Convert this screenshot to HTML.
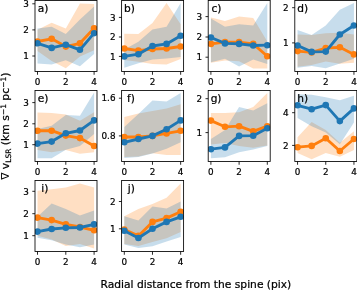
<!DOCTYPE html>
<html><head><meta charset="utf-8"><title>figure</title>
<style>
html,body{margin:0;padding:0;background:#fff;width:357px;height:290px;overflow:hidden}
svg{opacity:0.999;will-change:transform}
svg text{font-family:"DejaVu Sans","Liberation Sans",sans-serif;fill:#000;stroke:#000;stroke-width:0.22px}
</style></head><body>
<svg width="357" height="290" viewBox="0 0 357 290" style="display:block;position:absolute;left:0;top:0">
<rect width="357" height="290" fill="#fff"/>
<defs>
<clipPath id="ca"><rect x="35.0" y="0.5" width="62.0" height="70.95"/></clipPath>
<clipPath id="cb"><rect x="121.6" y="0.5" width="62.0" height="70.95"/></clipPath>
<clipPath id="cc"><rect x="208.2" y="0.5" width="62.0" height="70.95"/></clipPath>
<clipPath id="cd"><rect x="294.8" y="0.5" width="62.0" height="70.95"/></clipPath>
<clipPath id="ce"><rect x="35.0" y="90.5" width="62.0" height="70.95"/></clipPath>
<clipPath id="cf"><rect x="121.6" y="90.5" width="62.0" height="70.95"/></clipPath>
<clipPath id="cg"><rect x="208.2" y="90.5" width="62.0" height="70.95"/></clipPath>
<clipPath id="ch"><rect x="294.8" y="90.5" width="62.0" height="70.95"/></clipPath>
<clipPath id="ci"><rect x="35.0" y="180.5" width="62.0" height="70.95"/></clipPath>
<clipPath id="cj"><rect x="121.6" y="180.5" width="62.0" height="70.95"/></clipPath>
</defs>
<g clip-path="url(#ca)">
<polygon points="37.50,29.80 51.65,22.70 65.80,28.50 79.95,3.40 94.10,4.10 94.10,50.20 79.95,56.60 65.80,68.20 51.65,61.00 37.50,51.00" fill="#ff7f0e" fill-opacity="0.25"/>
<polygon points="37.50,28.50 51.65,26.70 65.80,34.10 79.95,19.60 94.10,6.50 94.10,54.10 79.95,66.30 65.80,60.20 51.65,64.50 37.50,63.40" fill="#1f77b4" fill-opacity="0.25"/>
<polyline points="37.50,41.50 51.65,38.80 65.80,46.60 79.95,43.30 94.10,28.30" fill="none" stroke="#ff7f0e" stroke-width="2.85" stroke-linejoin="round"/>
<circle cx="37.50" cy="41.50" r="3.3" fill="#ff7f0e"/>
<circle cx="51.65" cy="38.80" r="3.3" fill="#ff7f0e"/>
<circle cx="65.80" cy="46.60" r="3.3" fill="#ff7f0e"/>
<circle cx="79.95" cy="43.30" r="3.3" fill="#ff7f0e"/>
<circle cx="94.10" cy="28.30" r="3.3" fill="#ff7f0e"/>
<polyline points="37.50,43.30 51.65,47.90 65.80,44.70 79.95,49.80 94.10,33.20" fill="none" stroke="#1f77b4" stroke-width="2.85" stroke-linejoin="round"/>
<circle cx="37.50" cy="43.30" r="3.3" fill="#1f77b4"/>
<circle cx="51.65" cy="47.90" r="3.3" fill="#1f77b4"/>
<circle cx="65.80" cy="44.70" r="3.3" fill="#1f77b4"/>
<circle cx="79.95" cy="49.80" r="3.3" fill="#1f77b4"/>
<circle cx="94.10" cy="33.20" r="3.3" fill="#1f77b4"/>
</g>
<rect x="35.0" y="0.5" width="62.0" height="70.95" fill="none" stroke="#000" stroke-width="0.85"/>
<line x1="37.50" x2="37.50" y1="71.45" y2="74.75" stroke="#000" stroke-width="0.85"/>
<text x="37.50" y="85.09" font-size="8.8" text-anchor="middle">0</text>
<line x1="65.80" x2="65.80" y1="71.45" y2="74.75" stroke="#000" stroke-width="0.85"/>
<text x="65.80" y="85.09" font-size="8.8" text-anchor="middle">2</text>
<line x1="94.10" x2="94.10" y1="71.45" y2="74.75" stroke="#000" stroke-width="0.85"/>
<text x="94.10" y="85.09" font-size="8.8" text-anchor="middle">4</text>
<line x1="32.3" x2="35.0" y1="3.8" y2="3.8" stroke="#000" stroke-width="0.85"/>
<text x="28.90" y="7.01" font-size="8.8" text-anchor="end">3</text>
<line x1="32.3" x2="35.0" y1="29.9" y2="29.9" stroke="#000" stroke-width="0.85"/>
<text x="28.90" y="33.11" font-size="8.8" text-anchor="end">2</text>
<line x1="32.3" x2="35.0" y1="56.0" y2="56.0" stroke="#000" stroke-width="0.85"/>
<text x="28.90" y="59.21" font-size="8.8" text-anchor="end">1</text>
<text x="48.30" y="12.40" font-size="10.6" text-anchor="end">a)</text>
<g clip-path="url(#cb)">
<polygon points="124.30,33.70 138.39,34.00 152.48,23.00 166.57,3.10 180.66,24.30 180.66,58.90 166.57,64.40 152.48,64.00 138.39,61.80 124.30,60.00" fill="#ff7f0e" fill-opacity="0.25"/>
<polygon points="124.30,49.50 138.39,41.80 152.48,29.50 166.57,26.80 180.66,3.10 180.66,57.00 166.57,58.50 152.48,59.40 138.39,63.30 124.30,67.70" fill="#1f77b4" fill-opacity="0.25"/>
<polyline points="124.30,48.50 138.39,50.60 152.48,49.00 166.57,48.50 180.66,46.50" fill="none" stroke="#ff7f0e" stroke-width="2.85" stroke-linejoin="round"/>
<circle cx="124.30" cy="48.50" r="3.3" fill="#ff7f0e"/>
<circle cx="138.39" cy="50.60" r="3.3" fill="#ff7f0e"/>
<circle cx="152.48" cy="49.00" r="3.3" fill="#ff7f0e"/>
<circle cx="166.57" cy="48.50" r="3.3" fill="#ff7f0e"/>
<circle cx="180.66" cy="46.50" r="3.3" fill="#ff7f0e"/>
<polyline points="124.30,56.40 138.39,54.20 152.48,46.00 166.57,43.90 180.66,35.80" fill="none" stroke="#1f77b4" stroke-width="2.85" stroke-linejoin="round"/>
<circle cx="124.30" cy="56.40" r="3.3" fill="#1f77b4"/>
<circle cx="138.39" cy="54.20" r="3.3" fill="#1f77b4"/>
<circle cx="152.48" cy="46.00" r="3.3" fill="#1f77b4"/>
<circle cx="166.57" cy="43.90" r="3.3" fill="#1f77b4"/>
<circle cx="180.66" cy="35.80" r="3.3" fill="#1f77b4"/>
</g>
<rect x="121.6" y="0.5" width="62.0" height="70.95" fill="none" stroke="#000" stroke-width="0.85"/>
<line x1="124.30" x2="124.30" y1="71.45" y2="74.75" stroke="#000" stroke-width="0.85"/>
<text x="124.30" y="85.09" font-size="8.8" text-anchor="middle">0</text>
<line x1="152.48" x2="152.48" y1="71.45" y2="74.75" stroke="#000" stroke-width="0.85"/>
<text x="152.48" y="85.09" font-size="8.8" text-anchor="middle">2</text>
<line x1="180.66" x2="180.66" y1="71.45" y2="74.75" stroke="#000" stroke-width="0.85"/>
<text x="180.66" y="85.09" font-size="8.8" text-anchor="middle">4</text>
<line x1="118.89999999999999" x2="121.6" y1="17.4" y2="17.4" stroke="#000" stroke-width="0.85"/>
<text x="115.50" y="20.61" font-size="8.8" text-anchor="end">3</text>
<line x1="118.89999999999999" x2="121.6" y1="37.0" y2="37.0" stroke="#000" stroke-width="0.85"/>
<text x="115.50" y="40.21" font-size="8.8" text-anchor="end">2</text>
<line x1="118.89999999999999" x2="121.6" y1="56.4" y2="56.4" stroke="#000" stroke-width="0.85"/>
<text x="115.50" y="59.61" font-size="8.8" text-anchor="end">1</text>
<text x="134.90" y="12.40" font-size="10.6" text-anchor="end">b)</text>
<g clip-path="url(#cc)">
<polygon points="210.90,17.60 225.00,20.90 239.10,16.60 253.20,18.00 267.30,41.50 267.30,68.50 253.20,68.50 239.10,61.20 225.00,60.60 210.90,62.70" fill="#ff7f0e" fill-opacity="0.25"/>
<polygon points="210.90,18.40 225.00,26.80 239.10,24.30 253.20,25.50 267.30,3.10 267.30,64.00 253.20,59.50 239.10,66.60 225.00,58.70 210.90,62.20" fill="#1f77b4" fill-opacity="0.25"/>
<polyline points="210.90,43.90 225.00,42.10 239.10,42.10 253.20,43.90 267.30,56.20" fill="none" stroke="#ff7f0e" stroke-width="2.85" stroke-linejoin="round"/>
<circle cx="210.90" cy="43.90" r="3.3" fill="#ff7f0e"/>
<circle cx="225.00" cy="42.10" r="3.3" fill="#ff7f0e"/>
<circle cx="239.10" cy="42.10" r="3.3" fill="#ff7f0e"/>
<circle cx="253.20" cy="43.90" r="3.3" fill="#ff7f0e"/>
<circle cx="267.30" cy="56.20" r="3.3" fill="#ff7f0e"/>
<polyline points="210.90,37.50 225.00,43.40 239.10,43.90 253.20,45.50 267.30,45.20" fill="none" stroke="#1f77b4" stroke-width="2.85" stroke-linejoin="round"/>
<circle cx="210.90" cy="37.50" r="3.3" fill="#1f77b4"/>
<circle cx="225.00" cy="43.40" r="3.3" fill="#1f77b4"/>
<circle cx="239.10" cy="43.90" r="3.3" fill="#1f77b4"/>
<circle cx="253.20" cy="45.50" r="3.3" fill="#1f77b4"/>
<circle cx="267.30" cy="45.20" r="3.3" fill="#1f77b4"/>
</g>
<rect x="208.2" y="0.5" width="62.0" height="70.95" fill="none" stroke="#000" stroke-width="0.85"/>
<line x1="210.90" x2="210.90" y1="71.45" y2="74.75" stroke="#000" stroke-width="0.85"/>
<text x="210.90" y="85.09" font-size="8.8" text-anchor="middle">0</text>
<line x1="239.10" x2="239.10" y1="71.45" y2="74.75" stroke="#000" stroke-width="0.85"/>
<text x="239.10" y="85.09" font-size="8.8" text-anchor="middle">2</text>
<line x1="267.30" x2="267.30" y1="71.45" y2="74.75" stroke="#000" stroke-width="0.85"/>
<text x="267.30" y="85.09" font-size="8.8" text-anchor="middle">4</text>
<line x1="205.5" x2="208.2" y1="16.6" y2="16.6" stroke="#000" stroke-width="0.85"/>
<text x="202.10" y="19.81" font-size="8.8" text-anchor="end">3</text>
<line x1="205.5" x2="208.2" y1="37.0" y2="37.0" stroke="#000" stroke-width="0.85"/>
<text x="202.10" y="40.21" font-size="8.8" text-anchor="end">2</text>
<line x1="205.5" x2="208.2" y1="57.2" y2="57.2" stroke="#000" stroke-width="0.85"/>
<text x="202.10" y="60.41" font-size="8.8" text-anchor="end">1</text>
<text x="221.50" y="12.40" font-size="10.6" text-anchor="end">c)</text>
<g clip-path="url(#cd)">
<polygon points="297.55,34.50 311.65,35.00 325.75,33.20 339.85,32.70 353.95,34.50 353.95,62.80 339.85,63.70 325.75,61.40 311.65,65.10 297.55,66.80" fill="#ff7f0e" fill-opacity="0.25"/>
<polygon points="297.55,30.10 311.65,35.00 325.75,25.50 339.85,9.70 353.95,3.10 353.95,58.80 339.85,63.40 325.75,68.20 311.65,65.90 297.55,67.80" fill="#1f77b4" fill-opacity="0.25"/>
<polyline points="297.55,51.10 311.65,52.40 325.75,48.00 339.85,47.30 353.95,54.40" fill="none" stroke="#ff7f0e" stroke-width="2.85" stroke-linejoin="round"/>
<circle cx="297.55" cy="51.10" r="3.3" fill="#ff7f0e"/>
<circle cx="311.65" cy="52.40" r="3.3" fill="#ff7f0e"/>
<circle cx="325.75" cy="48.00" r="3.3" fill="#ff7f0e"/>
<circle cx="339.85" cy="47.30" r="3.3" fill="#ff7f0e"/>
<circle cx="353.95" cy="54.40" r="3.3" fill="#ff7f0e"/>
<polyline points="297.55,45.50 311.65,51.90 325.75,51.60 339.85,34.50 353.95,25.50" fill="none" stroke="#1f77b4" stroke-width="2.85" stroke-linejoin="round"/>
<circle cx="297.55" cy="45.50" r="3.3" fill="#1f77b4"/>
<circle cx="311.65" cy="51.90" r="3.3" fill="#1f77b4"/>
<circle cx="325.75" cy="51.60" r="3.3" fill="#1f77b4"/>
<circle cx="339.85" cy="34.50" r="3.3" fill="#1f77b4"/>
<circle cx="353.95" cy="25.50" r="3.3" fill="#1f77b4"/>
</g>
<rect x="294.8" y="0.5" width="62.0" height="70.95" fill="none" stroke="#000" stroke-width="0.85"/>
<line x1="297.55" x2="297.55" y1="71.45" y2="74.75" stroke="#000" stroke-width="0.85"/>
<text x="297.55" y="85.09" font-size="8.8" text-anchor="middle">0</text>
<line x1="325.75" x2="325.75" y1="71.45" y2="74.75" stroke="#000" stroke-width="0.85"/>
<text x="325.75" y="85.09" font-size="8.8" text-anchor="middle">2</text>
<line x1="353.95" x2="353.95" y1="71.45" y2="74.75" stroke="#000" stroke-width="0.85"/>
<text x="353.95" y="85.09" font-size="8.8" text-anchor="middle">4</text>
<line x1="292.1" x2="294.8" y1="7.7" y2="7.7" stroke="#000" stroke-width="0.85"/>
<text x="288.70" y="10.91" font-size="8.8" text-anchor="end">2</text>
<line x1="292.1" x2="294.8" y1="42.9" y2="42.9" stroke="#000" stroke-width="0.85"/>
<text x="288.70" y="46.11" font-size="8.8" text-anchor="end">1</text>
<text x="308.10" y="12.40" font-size="10.6" text-anchor="end">d)</text>
<g clip-path="url(#ce)">
<polygon points="37.50,112.40 51.65,112.90 65.80,114.50 79.95,120.70 94.10,112.30 94.10,152.20 79.95,153.70 65.80,150.00 51.65,152.20 37.50,150.10" fill="#ff7f0e" fill-opacity="0.25"/>
<polygon points="37.50,128.90 51.65,125.80 65.80,115.10 79.95,115.70 94.10,92.50 94.10,134.00 79.95,146.10 65.80,149.70 51.65,158.20 37.50,158.20" fill="#1f77b4" fill-opacity="0.25"/>
<polyline points="37.50,130.70 51.65,130.70 65.80,135.60 79.95,138.10 94.10,146.00" fill="none" stroke="#ff7f0e" stroke-width="2.85" stroke-linejoin="round"/>
<circle cx="37.50" cy="130.70" r="3.3" fill="#ff7f0e"/>
<circle cx="51.65" cy="130.70" r="3.3" fill="#ff7f0e"/>
<circle cx="65.80" cy="135.60" r="3.3" fill="#ff7f0e"/>
<circle cx="79.95" cy="138.10" r="3.3" fill="#ff7f0e"/>
<circle cx="94.10" cy="146.00" r="3.3" fill="#ff7f0e"/>
<polyline points="37.50,143.60 51.65,141.60 65.80,133.30 79.95,130.50 94.10,120.40" fill="none" stroke="#1f77b4" stroke-width="2.85" stroke-linejoin="round"/>
<circle cx="37.50" cy="143.60" r="3.3" fill="#1f77b4"/>
<circle cx="51.65" cy="141.60" r="3.3" fill="#1f77b4"/>
<circle cx="65.80" cy="133.30" r="3.3" fill="#1f77b4"/>
<circle cx="79.95" cy="130.50" r="3.3" fill="#1f77b4"/>
<circle cx="94.10" cy="120.40" r="3.3" fill="#1f77b4"/>
</g>
<rect x="35.0" y="90.5" width="62.0" height="70.95" fill="none" stroke="#000" stroke-width="0.85"/>
<line x1="37.50" x2="37.50" y1="161.45" y2="164.75" stroke="#000" stroke-width="0.85"/>
<text x="37.50" y="175.09" font-size="8.8" text-anchor="middle">0</text>
<line x1="65.80" x2="65.80" y1="161.45" y2="164.75" stroke="#000" stroke-width="0.85"/>
<text x="65.80" y="175.09" font-size="8.8" text-anchor="middle">2</text>
<line x1="94.10" x2="94.10" y1="161.45" y2="164.75" stroke="#000" stroke-width="0.85"/>
<text x="94.10" y="175.09" font-size="8.8" text-anchor="middle">4</text>
<line x1="32.3" x2="35.0" y1="102.6" y2="102.6" stroke="#000" stroke-width="0.85"/>
<text x="28.90" y="105.81" font-size="8.8" text-anchor="end">3</text>
<line x1="32.3" x2="35.0" y1="123.8" y2="123.8" stroke="#000" stroke-width="0.85"/>
<text x="28.90" y="127.01" font-size="8.8" text-anchor="end">2</text>
<line x1="32.3" x2="35.0" y1="144.7" y2="144.7" stroke="#000" stroke-width="0.85"/>
<text x="28.90" y="147.91" font-size="8.8" text-anchor="end">1</text>
<text x="48.30" y="102.40" font-size="10.6" text-anchor="end">e)</text>
<g clip-path="url(#cf)">
<polygon points="124.30,116.90 138.39,113.60 152.48,111.00 166.57,108.60 180.66,104.30 180.66,155.10 166.57,155.10 152.48,153.30 138.39,156.60 124.30,157.00" fill="#ff7f0e" fill-opacity="0.25"/>
<polygon points="124.30,126.90 138.39,113.90 152.48,100.50 166.57,101.60 180.66,93.10 180.66,142.20 166.57,148.70 152.48,153.60 138.39,157.00 124.30,157.90" fill="#1f77b4" fill-opacity="0.25"/>
<polyline points="124.30,137.00 138.39,137.00 152.48,135.90 166.57,133.40 180.66,130.80" fill="none" stroke="#ff7f0e" stroke-width="2.85" stroke-linejoin="round"/>
<circle cx="124.30" cy="137.00" r="3.3" fill="#ff7f0e"/>
<circle cx="138.39" cy="137.00" r="3.3" fill="#ff7f0e"/>
<circle cx="152.48" cy="135.90" r="3.3" fill="#ff7f0e"/>
<circle cx="166.57" cy="133.40" r="3.3" fill="#ff7f0e"/>
<circle cx="180.66" cy="130.80" r="3.3" fill="#ff7f0e"/>
<polyline points="124.30,142.30 138.39,139.00 152.48,135.90 166.57,129.30 180.66,120.40" fill="none" stroke="#1f77b4" stroke-width="2.85" stroke-linejoin="round"/>
<circle cx="124.30" cy="142.30" r="3.3" fill="#1f77b4"/>
<circle cx="138.39" cy="139.00" r="3.3" fill="#1f77b4"/>
<circle cx="152.48" cy="135.90" r="3.3" fill="#1f77b4"/>
<circle cx="166.57" cy="129.30" r="3.3" fill="#1f77b4"/>
<circle cx="180.66" cy="120.40" r="3.3" fill="#1f77b4"/>
</g>
<rect x="121.6" y="90.5" width="62.0" height="70.95" fill="none" stroke="#000" stroke-width="0.85"/>
<line x1="124.30" x2="124.30" y1="161.45" y2="164.75" stroke="#000" stroke-width="0.85"/>
<text x="124.30" y="175.09" font-size="8.8" text-anchor="middle">0</text>
<line x1="152.48" x2="152.48" y1="161.45" y2="164.75" stroke="#000" stroke-width="0.85"/>
<text x="152.48" y="175.09" font-size="8.8" text-anchor="middle">2</text>
<line x1="180.66" x2="180.66" y1="161.45" y2="164.75" stroke="#000" stroke-width="0.85"/>
<text x="180.66" y="175.09" font-size="8.8" text-anchor="middle">4</text>
<line x1="118.89999999999999" x2="121.6" y1="98.2" y2="98.2" stroke="#000" stroke-width="0.85"/>
<text x="115.50" y="101.41" font-size="8.8" text-anchor="end">1.6</text>
<line x1="118.89999999999999" x2="121.6" y1="135.9" y2="135.9" stroke="#000" stroke-width="0.85"/>
<text x="115.50" y="139.11" font-size="8.8" text-anchor="end">0.8</text>
<text x="134.90" y="102.40" font-size="10.6" text-anchor="end">f)</text>
<g clip-path="url(#cg)">
<polygon points="210.90,113.00 225.00,113.00 239.10,112.20 253.20,107.10 267.30,93.10 267.30,145.60 253.20,147.70 239.10,145.90 225.00,143.10 210.90,144.40" fill="#ff7f0e" fill-opacity="0.25"/>
<polygon points="210.90,139.00 225.00,130.00 239.10,107.10 253.20,110.40 267.30,103.30 267.30,146.00 253.20,149.60 239.10,152.30 225.00,157.20 210.90,158.20" fill="#1f77b4" fill-opacity="0.25"/>
<polyline points="210.90,120.60 225.00,126.80 239.10,126.20 253.20,131.30 267.30,126.20" fill="none" stroke="#ff7f0e" stroke-width="2.85" stroke-linejoin="round"/>
<circle cx="210.90" cy="120.60" r="3.3" fill="#ff7f0e"/>
<circle cx="225.00" cy="126.80" r="3.3" fill="#ff7f0e"/>
<circle cx="239.10" cy="126.20" r="3.3" fill="#ff7f0e"/>
<circle cx="253.20" cy="131.30" r="3.3" fill="#ff7f0e"/>
<circle cx="267.30" cy="126.20" r="3.3" fill="#ff7f0e"/>
<polyline points="210.90,149.20 225.00,147.40 239.10,135.90 253.20,135.70 267.30,128.30" fill="none" stroke="#1f77b4" stroke-width="2.85" stroke-linejoin="round"/>
<circle cx="210.90" cy="149.20" r="3.3" fill="#1f77b4"/>
<circle cx="225.00" cy="147.40" r="3.3" fill="#1f77b4"/>
<circle cx="239.10" cy="135.90" r="3.3" fill="#1f77b4"/>
<circle cx="253.20" cy="135.70" r="3.3" fill="#1f77b4"/>
<circle cx="267.30" cy="128.30" r="3.3" fill="#1f77b4"/>
</g>
<rect x="208.2" y="90.5" width="62.0" height="70.95" fill="none" stroke="#000" stroke-width="0.85"/>
<line x1="210.90" x2="210.90" y1="161.45" y2="164.75" stroke="#000" stroke-width="0.85"/>
<text x="210.90" y="175.09" font-size="8.8" text-anchor="middle">0</text>
<line x1="239.10" x2="239.10" y1="161.45" y2="164.75" stroke="#000" stroke-width="0.85"/>
<text x="239.10" y="175.09" font-size="8.8" text-anchor="middle">2</text>
<line x1="267.30" x2="267.30" y1="161.45" y2="164.75" stroke="#000" stroke-width="0.85"/>
<text x="267.30" y="175.09" font-size="8.8" text-anchor="middle">4</text>
<line x1="205.5" x2="208.2" y1="98.7" y2="98.7" stroke="#000" stroke-width="0.85"/>
<text x="202.10" y="101.91" font-size="8.8" text-anchor="end">2</text>
<line x1="205.5" x2="208.2" y1="132.6" y2="132.6" stroke="#000" stroke-width="0.85"/>
<text x="202.10" y="135.81" font-size="8.8" text-anchor="end">1</text>
<text x="221.50" y="102.40" font-size="10.6" text-anchor="end">g)</text>
<g clip-path="url(#ch)">
<polygon points="297.55,137.30 311.65,121.90 325.75,130.00 339.85,142.80 353.95,131.30 353.95,150.00 339.85,156.80 325.75,153.00 311.65,159.20 297.55,153.00" fill="#ff7f0e" fill-opacity="0.25"/>
<polygon points="297.55,94.30 311.65,94.80 325.75,97.20 339.85,100.30 353.95,95.80 353.95,122.40 339.85,144.30 325.75,132.60 311.65,126.20 297.55,118.00" fill="#1f77b4" fill-opacity="0.25"/>
<polyline points="297.55,147.20 311.65,145.90 325.75,138.20 339.85,151.00 353.95,139.00" fill="none" stroke="#ff7f0e" stroke-width="2.85" stroke-linejoin="round"/>
<circle cx="297.55" cy="147.20" r="3.3" fill="#ff7f0e"/>
<circle cx="311.65" cy="145.90" r="3.3" fill="#ff7f0e"/>
<circle cx="325.75" cy="138.20" r="3.3" fill="#ff7f0e"/>
<circle cx="339.85" cy="151.00" r="3.3" fill="#ff7f0e"/>
<circle cx="353.95" cy="139.00" r="3.3" fill="#ff7f0e"/>
<polyline points="297.55,105.30 311.65,109.20 325.75,105.10 339.85,121.10 353.95,108.40" fill="none" stroke="#1f77b4" stroke-width="2.85" stroke-linejoin="round"/>
<circle cx="297.55" cy="105.30" r="3.3" fill="#1f77b4"/>
<circle cx="311.65" cy="109.20" r="3.3" fill="#1f77b4"/>
<circle cx="325.75" cy="105.10" r="3.3" fill="#1f77b4"/>
<circle cx="339.85" cy="121.10" r="3.3" fill="#1f77b4"/>
<circle cx="353.95" cy="108.40" r="3.3" fill="#1f77b4"/>
</g>
<rect x="294.8" y="90.5" width="62.0" height="70.95" fill="none" stroke="#000" stroke-width="0.85"/>
<line x1="297.55" x2="297.55" y1="161.45" y2="164.75" stroke="#000" stroke-width="0.85"/>
<text x="297.55" y="175.09" font-size="8.8" text-anchor="middle">0</text>
<line x1="325.75" x2="325.75" y1="161.45" y2="164.75" stroke="#000" stroke-width="0.85"/>
<text x="325.75" y="175.09" font-size="8.8" text-anchor="middle">2</text>
<line x1="353.95" x2="353.95" y1="161.45" y2="164.75" stroke="#000" stroke-width="0.85"/>
<text x="353.95" y="175.09" font-size="8.8" text-anchor="middle">4</text>
<line x1="292.1" x2="294.8" y1="112.7" y2="112.7" stroke="#000" stroke-width="0.85"/>
<text x="288.70" y="115.91" font-size="8.8" text-anchor="end">4</text>
<line x1="292.1" x2="294.8" y1="145.4" y2="145.4" stroke="#000" stroke-width="0.85"/>
<text x="288.70" y="148.61" font-size="8.8" text-anchor="end">2</text>
<text x="308.10" y="102.40" font-size="10.6" text-anchor="end">h)</text>
<g clip-path="url(#ci)">
<polygon points="37.50,190.80 51.65,189.30 65.80,187.50 79.95,183.60 94.10,187.50 94.10,248.40 79.95,243.90 65.80,245.90 51.65,239.50 37.50,235.70" fill="#ff7f0e" fill-opacity="0.25"/>
<polygon points="37.50,216.80 51.65,203.50 65.80,209.10 79.95,215.50 94.10,210.40 94.10,244.60 79.95,247.20 65.80,244.60 51.65,240.30 37.50,237.70" fill="#1f77b4" fill-opacity="0.25"/>
<polyline points="37.50,217.60 51.65,220.10 65.80,224.40 79.95,227.00 94.10,230.30" fill="none" stroke="#ff7f0e" stroke-width="2.85" stroke-linejoin="round"/>
<circle cx="37.50" cy="217.60" r="3.3" fill="#ff7f0e"/>
<circle cx="51.65" cy="220.10" r="3.3" fill="#ff7f0e"/>
<circle cx="65.80" cy="224.40" r="3.3" fill="#ff7f0e"/>
<circle cx="79.95" cy="227.00" r="3.3" fill="#ff7f0e"/>
<circle cx="94.10" cy="230.30" r="3.3" fill="#ff7f0e"/>
<polyline points="37.50,231.60 51.65,229.00 65.80,227.80 79.95,227.50 94.10,224.40" fill="none" stroke="#1f77b4" stroke-width="2.85" stroke-linejoin="round"/>
<circle cx="37.50" cy="231.60" r="3.3" fill="#1f77b4"/>
<circle cx="51.65" cy="229.00" r="3.3" fill="#1f77b4"/>
<circle cx="65.80" cy="227.80" r="3.3" fill="#1f77b4"/>
<circle cx="79.95" cy="227.50" r="3.3" fill="#1f77b4"/>
<circle cx="94.10" cy="224.40" r="3.3" fill="#1f77b4"/>
</g>
<rect x="35.0" y="180.5" width="62.0" height="70.95" fill="none" stroke="#000" stroke-width="0.85"/>
<line x1="37.50" x2="37.50" y1="251.45" y2="254.75" stroke="#000" stroke-width="0.85"/>
<text x="37.50" y="265.09" font-size="8.8" text-anchor="middle">0</text>
<line x1="65.80" x2="65.80" y1="251.45" y2="254.75" stroke="#000" stroke-width="0.85"/>
<text x="65.80" y="265.09" font-size="8.8" text-anchor="middle">2</text>
<line x1="94.10" x2="94.10" y1="251.45" y2="254.75" stroke="#000" stroke-width="0.85"/>
<text x="94.10" y="265.09" font-size="8.8" text-anchor="middle">4</text>
<line x1="32.3" x2="35.0" y1="191.3" y2="191.3" stroke="#000" stroke-width="0.85"/>
<text x="28.90" y="194.51" font-size="8.8" text-anchor="end">3</text>
<line x1="32.3" x2="35.0" y1="213.7" y2="213.7" stroke="#000" stroke-width="0.85"/>
<text x="28.90" y="216.91" font-size="8.8" text-anchor="end">2</text>
<line x1="32.3" x2="35.0" y1="235.7" y2="235.7" stroke="#000" stroke-width="0.85"/>
<text x="28.90" y="238.91" font-size="8.8" text-anchor="end">1</text>
<text x="48.30" y="192.40" font-size="10.6" text-anchor="end">i)</text>
<g clip-path="url(#cj)">
<polygon points="124.30,216.30 138.39,209.10 152.48,204.00 166.57,197.70 180.66,183.60 180.66,231.90 166.57,238.20 152.48,242.10 138.39,245.90 124.30,243.90" fill="#ff7f0e" fill-opacity="0.25"/>
<polygon points="124.30,216.30 138.39,220.60 152.48,206.60 166.57,208.60 180.66,201.50 180.66,236.90 166.57,241.60 152.48,246.20 138.39,247.90 124.30,244.50" fill="#1f77b4" fill-opacity="0.25"/>
<polyline points="124.30,229.50 138.39,235.90 152.48,221.90 166.57,218.10 180.66,211.70" fill="none" stroke="#ff7f0e" stroke-width="2.85" stroke-linejoin="round"/>
<circle cx="124.30" cy="229.50" r="3.3" fill="#ff7f0e"/>
<circle cx="138.39" cy="235.90" r="3.3" fill="#ff7f0e"/>
<circle cx="152.48" cy="221.90" r="3.3" fill="#ff7f0e"/>
<circle cx="166.57" cy="218.10" r="3.3" fill="#ff7f0e"/>
<circle cx="180.66" cy="211.70" r="3.3" fill="#ff7f0e"/>
<polyline points="124.30,230.80 138.39,238.00 152.48,228.80 166.57,221.90 180.66,216.80" fill="none" stroke="#1f77b4" stroke-width="2.85" stroke-linejoin="round"/>
<circle cx="124.30" cy="230.80" r="3.3" fill="#1f77b4"/>
<circle cx="138.39" cy="238.00" r="3.3" fill="#1f77b4"/>
<circle cx="152.48" cy="228.80" r="3.3" fill="#1f77b4"/>
<circle cx="166.57" cy="221.90" r="3.3" fill="#1f77b4"/>
<circle cx="180.66" cy="216.80" r="3.3" fill="#1f77b4"/>
</g>
<rect x="121.6" y="180.5" width="62.0" height="70.95" fill="none" stroke="#000" stroke-width="0.85"/>
<line x1="124.30" x2="124.30" y1="251.45" y2="254.75" stroke="#000" stroke-width="0.85"/>
<text x="124.30" y="265.09" font-size="8.8" text-anchor="middle">0</text>
<line x1="152.48" x2="152.48" y1="251.45" y2="254.75" stroke="#000" stroke-width="0.85"/>
<text x="152.48" y="265.09" font-size="8.8" text-anchor="middle">2</text>
<line x1="180.66" x2="180.66" y1="251.45" y2="254.75" stroke="#000" stroke-width="0.85"/>
<text x="180.66" y="265.09" font-size="8.8" text-anchor="middle">4</text>
<line x1="118.89999999999999" x2="121.6" y1="201.5" y2="201.5" stroke="#000" stroke-width="0.85"/>
<text x="115.50" y="204.71" font-size="8.8" text-anchor="end">2</text>
<line x1="118.89999999999999" x2="121.6" y1="228.8" y2="228.8" stroke="#000" stroke-width="0.85"/>
<text x="115.50" y="232.01" font-size="8.8" text-anchor="end">1</text>
<text x="134.90" y="192.40" font-size="10.6" text-anchor="end">j)</text>
<text x="195.9" y="287.5" font-size="10.7" text-anchor="middle">Radial distance from the spine (pix)</text>
<text transform="translate(9.3,126.2) rotate(-90)" font-size="10.819999999999999" text-anchor="middle"><tspan stroke="none">∇</tspan> v<tspan font-size="7.489999999999999" dy="2">LSR</tspan><tspan dy="-2"> (km s</tspan><tspan font-size="7.489999999999999" dy="-3.6">−1</tspan><tspan dy="3.6"> pc</tspan><tspan font-size="7.489999999999999" dy="-3.6">−1</tspan><tspan dy="3.6">)</tspan></text>
</svg>
</body></html>
